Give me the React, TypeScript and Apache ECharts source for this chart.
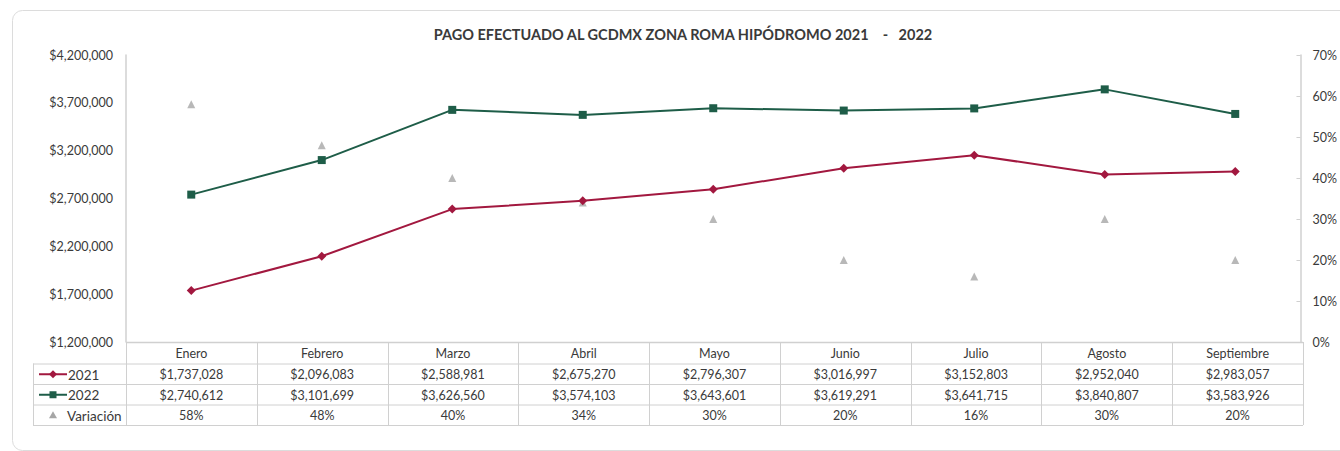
import React, { useEffect, useRef } from "react";
import * as echarts from "echarts";

const categories = ["Enero", "Febrero", "Marzo", "Abril", "Mayo", "Junio", "Julio", "Agosto", "Septiembre"];
const pago2021 = [1737028, 2096083, 2588981, 2675270, 2796307, 3016997, 3152803, 2952040, 2983057];
const pago2022 = [2740612, 3101699, 3626560, 3574103, 3643601, 3619291, 3641715, 3840807, 3583926];
const variacion = [58, 48, 40, 34, 30, 20, 16, 30, 20];
const seriesNames = ["2021", "2022", "Variación"];

const W = 1340;
const H = 451;
const G_LEFT = 126;
const G_RIGHT = 1303;
const G_TOP = 55;
const G_BOTTOM = 342;
const ROW_H = 20.5;
const TABLE_LEFT = 33;

const RED = "#a2183f";
const GREEN = "#1e5d48";
const GRAY = "#a6a6a6";
const LINE = "#d0d0d0";
const TXT = "#3a3a3a";
const FONT = "Lato, 'Open Sans', sans-serif";

const money = (v: number) => "$" + v.toLocaleString("en-US");

function buildTable(): any[] {
  const els: any[] = [];
  const colW = (G_RIGHT - G_LEFT) / categories.length;
  const top = G_BOTTOM;
  const rowsY = [top, top + ROW_H + 1, top + 2 * ROW_H + 1, top + 3 * ROW_H + 1, top + 4 * ROW_H + 1];
  const stroke = { stroke: LINE, lineWidth: 1 };
  for (let i = 0; i < rowsY.length; i++) {
    const x1 = i === 0 ? G_LEFT : TABLE_LEFT;
    els.push({ type: "line", silent: true, shape: { x1, y1: rowsY[i] + 0.5, x2: G_RIGHT, y2: rowsY[i] + 0.5 }, style: { ...stroke, lineWidth: i === 0 ? 1.5 : 1 } });
  }
  els.push({ type: "line", silent: true, shape: { x1: TABLE_LEFT + 0.5, y1: rowsY[1], x2: TABLE_LEFT + 0.5, y2: rowsY[4] }, style: stroke });
  for (let c = 0; c <= categories.length; c++) {
    const x = Math.round(G_LEFT + c * colW) + 0.5;
    els.push({ type: "line", silent: true, shape: { x1: x, y1: rowsY[0], x2: x, y2: rowsY[4] }, style: stroke });
  }
  const rowsData = [
    categories,
    pago2021.map(money),
    pago2022.map(money),
    variacion.map((v) => v + "%"),
  ];
  rowsData.forEach((row, r) => {
    row.forEach((t, c) => {
      els.push({
        type: "text",
        silent: true,
        x: G_LEFT + (c + 0.5) * colW,
        y: (rowsY[r] + rowsY[r + 1]) / 2 + 1,
        style: { text: t, fill: TXT, font: `12.5px ${FONT}`, align: "center", verticalAlign: "middle" },
      });
    });
  });
  const lx1 = 39, lx2 = 67, lmid = 53;
  const y1 = (rowsY[1] + rowsY[2]) / 2 + 0.5;
  const y2 = (rowsY[2] + rowsY[3]) / 2 + 0.5;
  const y3 = (rowsY[3] + rowsY[4]) / 2 + 0.5;
  els.push({ type: "line", silent: true, shape: { x1: lx1, y1, x2: lx2, y2: y1 }, style: { stroke: RED, lineWidth: 2 } });
  els.push({ type: "polygon", silent: true, shape: { points: [[lmid, y1 - 4], [lmid + 4, y1], [lmid, y1 + 4], [lmid - 4, y1]] }, style: { fill: RED } });
  els.push({ type: "line", silent: true, shape: { x1: lx1, y1: y2, x2: lx2, y2: y2 }, style: { stroke: GREEN, lineWidth: 2 } });
  els.push({ type: "rect", silent: true, shape: { x: lmid - 3.5, y: y2 - 3.5, width: 7, height: 7 }, style: { fill: GREEN } });
  els.push({ type: "polygon", silent: true, shape: { points: [[lmid, y3 - 4], [lmid + 4, y3 + 3], [lmid - 4, y3 + 3]] }, style: { fill: GRAY } });
  [y1, y2].forEach((y, i) => {
    els.push({ type: "text", silent: true, x: 68, y: y + 0.5, style: { text: seriesNames[i], fill: TXT, font: `13.5px ${FONT}`, align: "left", verticalAlign: "middle" } });
  });
  els.push({ type: "text", silent: true, x: 67, y: y3 + 0.5, style: { text: seriesNames[2], fill: TXT, font: `13.5px ${FONT}`, align: "left", verticalAlign: "middle" } });
  return els;
}

export default function App() {
  const ref = useRef<HTMLDivElement>(null);
  useEffect(() => {
    if (!ref.current) return;
    const chart = echarts.init(ref.current, null, { renderer: "svg" });
    chart.setOption({
      animation: false,
      backgroundColor: "#ffffff",
      title: {
        text: "PAGO EFECTUADO AL GCDMX ZONA ROMA HIPÓDROMO 2021    -   2022",
        left: 678,
        textAlign: "center",
        top: 22,
        textStyle: { fontFamily: FONT, fontWeight: "bold", fontSize: 14.5, color: TXT },
      },
      grid: { left: G_LEFT, right: W - G_RIGHT, top: G_TOP, bottom: H - G_BOTTOM, containLabel: false },
      xAxis: {
        type: "category",
        data: categories,
        boundaryGap: true,
        axisLine: { show: false },
        axisTick: { show: false },
        axisLabel: { show: false },
      },
      yAxis: [
        {
          type: "value",
          min: 1200000,
          max: 4200000,
          interval: 500000,
          axisLine: { show: true, lineStyle: { color: LINE, width: 1.5 } },
          axisTick: { show: false },
          splitLine: { show: false },
          axisLabel: {
            margin: 13,
            color: TXT,
            fontFamily: FONT,
            fontSize: 12.5,
            formatter: (v: number) => money(v),
          },
        },
        {
          type: "value",
          position: "right",
          min: 0,
          max: 70,
          interval: 10,
          axisLine: { show: true, lineStyle: { color: LINE, width: 1.5 } },
          axisTick: { show: true, inside: true, length: 4, lineStyle: { color: LINE } },
          splitLine: { show: false },
          axisLabel: {
            margin: 12,
            color: TXT,
            fontFamily: FONT,
            fontSize: 12.5,
            formatter: (v: number) => v + "%",
          },
        },
      ],
      series: [
        {
          name: seriesNames[0],
          type: "line",
          data: pago2021,
          yAxisIndex: 0,
          symbol: "diamond",
          symbolSize: 9,
          lineStyle: { color: RED, width: 2 },
          itemStyle: { color: RED },
        },
        {
          name: seriesNames[1],
          type: "line",
          data: pago2022,
          yAxisIndex: 0,
          symbol: "rect",
          symbolSize: 8,
          lineStyle: { color: GREEN, width: 2 },
          itemStyle: { color: GREEN },
        },
        {
          name: seriesNames[2],
          type: "scatter",
          data: variacion,
          yAxisIndex: 1,
          symbol: "triangle",
          symbolSize: 8,
          itemStyle: { color: GRAY },
        },
      ],
      graphic: [
        {
          type: "rect",
          silent: true,
          z: -10,
          shape: { x: 12.5, y: 10.5, width: 1340, height: 440, r: 10 },
          style: { fill: "none", stroke: "#dcdcdc", lineWidth: 1 },
        },
        ...buildTable(),
      ],
    });
    return () => chart.dispose();
  }, []);
  return (
    <div
      ref={ref}
      style={{ position: "fixed", left: 0, top: 0, width: W, height: H, background: "#fff" }}
    />
  );
}
